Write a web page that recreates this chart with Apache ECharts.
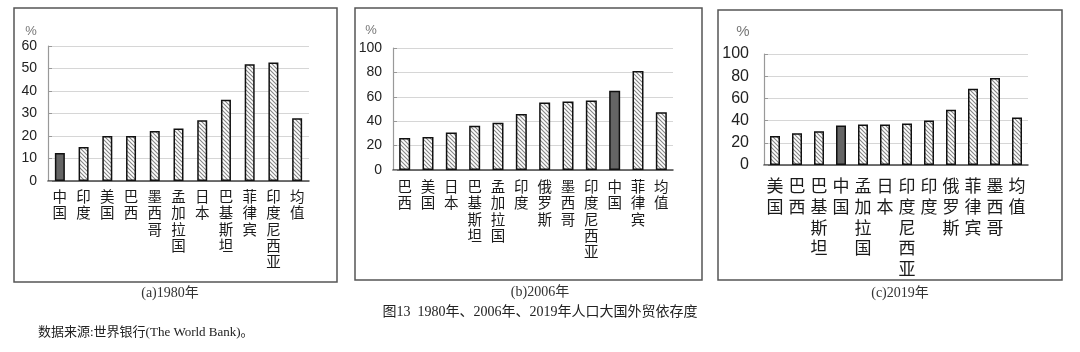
<!DOCTYPE html>
<html>
<head>
<meta charset="utf-8">
<script src="https://cdn.jsdelivr.net/npm/echarts@6/dist/echarts.min.js"></script>
<style>
html, body { margin: 0; padding: 0; background: #fff; }
#chart { width: 1080px; height: 352px; }
</style>
</head>
<body>
<div id="chart"></div>
<script>
// 1980
var cats1980 = ['中国', '印度', '美国', '巴西', '墨西哥', '孟加拉国', '日本', '巴基斯坦', '菲律宾', '印度尼西亚', '均值'];
var vals1980 = [12.4, 15.1, 20, 20, 22.2, 23.3, 27, 36.1, 51.9, 52.7, 27.9];
// 2006
var cats2006 = ['巴西', '美国', '日本', '巴基斯坦', '孟加拉国', '印度', '俄罗斯', '墨西哥', '印度尼西亚', '中国', '菲律宾', '均值'];
var vals2006 = [26.2, 27, 30.8, 36.2, 38.7, 45.8, 55.3, 56.1, 57, 64.9, 81.2, 47.4];
// 2019
var cats2019 = ['美国', '巴西', '巴基斯坦', '中国', '孟加拉国', '日本', '印度尼西亚', '印度', '俄罗斯', '菲律宾', '墨西哥', '均值'];
var vals2019 = [26.2, 28.6, 30.4, 35.5, 36.4, 36.4, 37.3, 40, 49.7, 68.7, 78.3, 42.8];

var yMax = [60, 100, 100];
var yStep = [10, 20, 20];
var captions = ['(a)1980年', '(b)2006年', '(c)2019年'];

var chart = echarts.init(document.getElementById('chart'));

// diagonal hatch
var hatch = document.createElement('canvas');
hatch.width = 4; hatch.height = 4;
var ctx = hatch.getContext('2d');
ctx.fillStyle = '#fff';
ctx.fillRect(0, 0, 4, 4);
ctx.strokeStyle = '#858585';
ctx.lineWidth = 1.1;
ctx.beginPath();
ctx.moveTo(-1, -1); ctx.lineTo(5, 5);
ctx.moveTo(-1, 3); ctx.lineTo(1, 5);
ctx.moveTo(3, -1); ctx.lineTo(5, 1);
ctx.stroke();

var sansFont = '"Liberation Sans", "Noto Sans CJK SC", sans-serif';
var serifFont = '"Liberation Serif", "Noto Sans CJK SC", serif';

function vertical(s) { return s.split('').join('\n'); }

function barData(cats, vals) {
    return vals.map(function (v, i) {
        if (cats[i] === '中国') {
            return { value: v, itemStyle: { color: '#656565' } };
        }
        return v;
    });
}

var grids = [
    { left: 48, top: 46, width: 261, height: 135 },
    { left: 393, top: 48, width: 280, height: 122 },
    { left: 764, top: 54, width: 264, height: 111 }
];
var labelFont = [14.5, 14.5, 17];
var labelLine = [16.2, 16.2, 20.8];
var labelMargin = [9, 10, 12];
var yFont = [14, 14, 16];
var allCats = [cats1980, cats2006, cats2019];
var allVals = [vals1980, vals2006, vals2019];

var option = {
    animation: false,
    grid: grids.map(function (g) { return Object.assign({ containLabel: false }, g); }),
    xAxis: allCats.map(function (cats, i) {
        return {
            type: 'category',
            gridIndex: i,
            data: cats,
            axisLine: { lineStyle: { color: '#444', width: 1.5 } },
            axisTick: { show: false },
            axisLabel: {
                interval: 0,
                formatter: vertical,
                fontFamily: sansFont,
                fontSize: labelFont[i],
                lineHeight: labelLine[i],
                color: '#1a1a1a',
                margin: labelMargin[i],
                verticalAlign: 'top'
            }
        };
    }),
    yAxis: yMax.map(function (m, i) {
        return {
            type: 'value',
            gridIndex: i,
            min: 0,
            max: m,
            interval: yStep[i],
            axisLine: { show: true, lineStyle: { color: '#999', width: 1.2 } },
            axisTick: { show: true, inside: true, length: 4, lineStyle: { color: '#999' } },
            splitLine: { lineStyle: { color: '#d6d6d6', width: 1 } },
            axisLabel: {
                fontFamily: sansFont,
                fontSize: yFont[i],
                color: '#222',
                margin: i === 2 ? 15 : 11
            }
        };
    }),
    series: allVals.map(function (vals, i) {
        return {
            type: 'bar',
            xAxisIndex: i,
            yAxisIndex: i,
            barWidth: i === 1 ? 11 : 10,
            data: barData(allCats[i], vals),
            itemStyle: {
                color: { image: hatch, repeat: 'repeat' },
                borderColor: '#111',
                borderWidth: 1.5
            }
        };
    }),
    graphic: [
        { type: 'rect', shape: { x: 14, y: 8, width: 323, height: 274 }, style: { fill: 'none', stroke: '#555', lineWidth: 1.5 } },
        { type: 'rect', shape: { x: 355, y: 8, width: 347, height: 272 }, style: { fill: 'none', stroke: '#555', lineWidth: 1.5 } },
        { type: 'rect', shape: { x: 718, y: 10, width: 344, height: 270 }, style: { fill: 'none', stroke: '#555', lineWidth: 1.5 } },
        { type: 'text', x: 31, y: 31, style: { text: '%', fill: '#777', font: '13px ' + sansFont, align: 'center', verticalAlign: 'middle' } },
        { type: 'text', x: 371, y: 30, style: { text: '%', fill: '#777', font: '13px ' + sansFont, align: 'center', verticalAlign: 'middle' } },
        { type: 'text', x: 743, y: 32, style: { text: '%', fill: '#777', font: '15px ' + sansFont, align: 'center', verticalAlign: 'middle' } },
        { type: 'text', x: 170, y: 293, style: { text: captions[0], fill: '#333', font: '14px ' + serifFont, align: 'center', verticalAlign: 'middle' } },
        { type: 'text', x: 540, y: 292, style: { text: captions[1], fill: '#333', font: '14px ' + serifFont, align: 'center', verticalAlign: 'middle' } },
        { type: 'text', x: 900, y: 293, style: { text: captions[2], fill: '#333', font: '14px ' + serifFont, align: 'center', verticalAlign: 'middle' } },
        { type: 'text', x: 540, y: 312, style: { text: '图13  1980年、2006年、2019年人口大国外贸依存度', fill: '#222', font: '14px ' + serifFont, align: 'center', verticalAlign: 'middle' } },
        { type: 'text', x: 38, y: 333, style: { text: '数据来源:世界银行(The World Bank)。', fill: '#222', font: '13px ' + serifFont, align: 'left', verticalAlign: 'middle' } }
    ]
};

chart.setOption(option);
</script>
</body>
</html>
